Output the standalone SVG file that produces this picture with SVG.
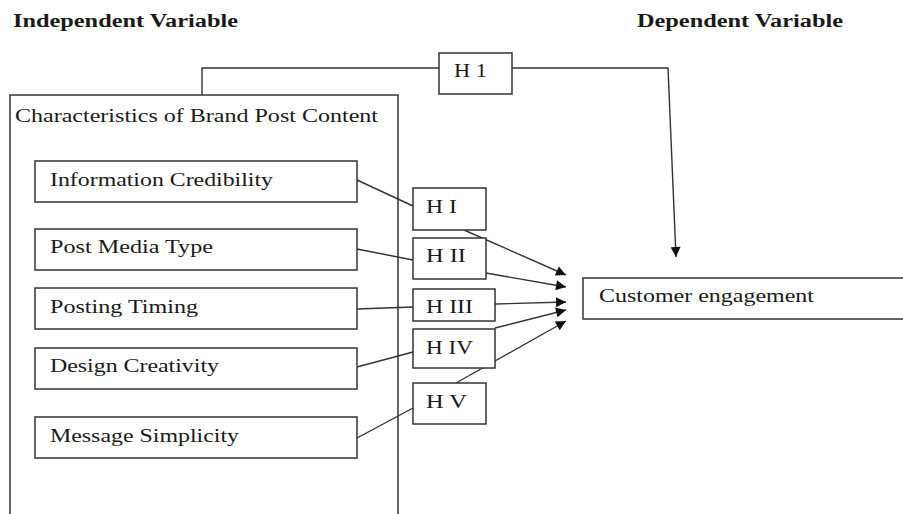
<svg xmlns="http://www.w3.org/2000/svg" width="903" height="514" viewBox="0 0 903 514">
<style>
.box{fill:#fff;stroke:#333;stroke-width:1.5}
.ln{fill:none;stroke:#333;stroke-width:1.4}
.t{font-family:"Liberation Serif","Times New Roman",serif;font-size:19px;fill:#1a1a1a}
.h{font-family:"Liberation Serif","Times New Roman",serif;font-size:18.5px;font-weight:bold;fill:#1a1a1a}
</style>
<defs>
<marker id="arr" viewBox="0 0 10 10" refX="10" refY="5" markerWidth="12" markerHeight="10" markerUnits="userSpaceOnUse" orient="auto">
<path d="M0,0 L10,5 L0,10 Z" fill="#111"/>
</marker>
</defs>
<rect width="903" height="514" fill="#fff"/>
<text class="h" x="13" y="27" textLength="225" lengthAdjust="spacingAndGlyphs">Independent Variable</text>
<text class="h" x="637" y="27" textLength="206" lengthAdjust="spacingAndGlyphs">Dependent Variable</text>

<g id="group-characteristics">
<path class="box" d="M10,516 V95 H398 V516"/>
<text class="t" x="15" y="122" textLength="363" lengthAdjust="spacingAndGlyphs">Characteristics of Brand Post Content</text>
</g>

<g id="connectors">
<polyline class="ln" points="202,95 202,68 439,68"/>
<polyline class="ln" points="512,68 668,68 676,257" marker-end="url(#arr)"/>
<line class="ln" x1="357" y1="180" x2="413" y2="206"/>
<line class="ln" x1="357" y1="249" x2="413" y2="260"/>
<line class="ln" x1="357" y1="309" x2="413" y2="307"/>
<line class="ln" x1="357" y1="367" x2="413" y2="352"/>
<line class="ln" x1="357" y1="438" x2="413" y2="408"/>
<line class="ln" x1="464" y1="230" x2="566" y2="275" marker-end="url(#arr)"/>
<line class="ln" x1="486" y1="273" x2="566" y2="287" marker-end="url(#arr)"/>
<line class="ln" x1="495" y1="304" x2="566" y2="302" marker-end="url(#arr)"/>
<line class="ln" x1="495" y1="328" x2="566" y2="310" marker-end="url(#arr)"/>
<line class="ln" x1="456" y1="383" x2="566" y2="321" marker-end="url(#arr)"/>
</g>

<g id="node-information-credibility">
<rect class="box" x="35" y="161" width="322" height="41"/>
<text class="t" x="50" y="186" textLength="223" lengthAdjust="spacingAndGlyphs">Information Credibility</text>
</g>
<g id="node-post-media-type">
<rect class="box" x="35" y="229" width="322" height="41"/>
<text class="t" x="50" y="253" textLength="163" lengthAdjust="spacingAndGlyphs">Post Media Type</text>
</g>
<g id="node-posting-timing">
<rect class="box" x="35" y="288" width="322" height="41"/>
<text class="t" x="50" y="313" textLength="148" lengthAdjust="spacingAndGlyphs">Posting Timing</text>
</g>
<g id="node-design-creativity">
<rect class="box" x="35" y="348" width="322" height="41"/>
<text class="t" x="50" y="372" textLength="169" lengthAdjust="spacingAndGlyphs">Design Creativity</text>
</g>
<g id="node-message-simplicity">
<rect class="box" x="35" y="417" width="322" height="41"/>
<text class="t" x="50" y="442" textLength="189" lengthAdjust="spacingAndGlyphs">Message Simplicity</text>
</g>

<g id="node-h1">
<rect class="box" x="439" y="53" width="73" height="41"/>
<text class="t" x="454" y="77" textLength="33" lengthAdjust="spacingAndGlyphs">H 1</text>
</g>
<g id="node-hI">
<rect class="box" x="413" y="188" width="73" height="42"/>
<text class="t" x="426" y="213" textLength="31" lengthAdjust="spacingAndGlyphs">H I</text>
</g>
<g id="node-hII">
<rect class="box" x="413" y="238" width="73" height="41"/>
<text class="t" x="426" y="262" textLength="40" lengthAdjust="spacingAndGlyphs">H II</text>
</g>
<g id="node-hIII">
<rect class="box" x="413" y="289" width="82" height="32"/>
<text class="t" x="426" y="313" textLength="47" lengthAdjust="spacingAndGlyphs">H III</text>
</g>
<g id="node-hIV">
<rect class="box" x="413" y="329" width="82" height="39"/>
<text class="t" x="426" y="354" textLength="47" lengthAdjust="spacingAndGlyphs">H IV</text>
</g>
<g id="node-hV">
<rect class="box" x="413" y="383" width="73" height="41"/>
<text class="t" x="426" y="408" textLength="41" lengthAdjust="spacingAndGlyphs">H V</text>
</g>

<g id="node-customer-engagement">
<rect class="box" x="583" y="278" width="340" height="41"/>
<text class="t" x="599" y="302" textLength="215" lengthAdjust="spacingAndGlyphs">Customer engagement</text>
</g>
</svg>
